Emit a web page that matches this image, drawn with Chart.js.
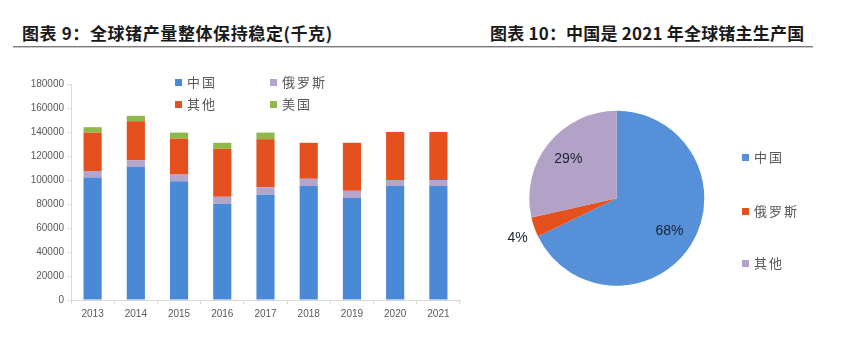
<!DOCTYPE html>
<html>
<head>
<meta charset="utf-8">
<script src="https://cdn.jsdelivr.net/npm/chart.js@4.4.1/dist/chart.umd.min.js"></script>
<style>
  html, body { margin:0; padding:0; background:#fff; }
  body { width:851px; height:356px; position:relative; overflow:hidden; font-family:"Noto Sans CJK SC", sans-serif; }
  .title { position:absolute; top:22px; font-size:17px; font-weight:bold; color:#1a1a1a; white-space:nowrap; line-height:22px; }
  .rule { position:absolute; left:13px; top:46px; width:800px; height:1px; background:#7a7a7a; border-bottom:1px solid #c8c8c8; }
  .leg { position:absolute; font-size:13px; color:#595959; letter-spacing:2px; white-space:nowrap; line-height:16px; }
  .leg i { display:inline-block; width:7px; height:7px; margin-right:5px; vertical-align:1px; }
  #c1 { position:absolute; left:0; top:0; }
  #c2 { position:absolute; left:480px; top:100px; }
</style>
</head>
<body>
<div class="title" style="left:22px; letter-spacing:0.6px;">图表 9：全球锗产量整体保持稳定(千克)</div>
<div class="title" style="left:490px; letter-spacing:0.2px;">图表 10：中国是 2021 年全球锗主生产国</div>
<div class="rule"></div>
<canvas id="c1" width="470" height="356"></canvas>
<canvas id="c2" width="280" height="200"></canvas>
<div id="leg1"></div>
<div id="leg2"></div>
<script>
// ---- Data ----
const years = ['2013','2014','2015','2016','2017','2018','2019','2020','2021'];
const seriesNames = ['中国','俄罗斯','其他','美国'];
const chinaOutput  = [102000,111000, 99000, 80000, 88000, 95000, 85000, 95000, 95000];
const russiaOutput = [  5500,  5500,  5500,  6000,  6000,  6000,  6000,  5000,  5000];
const otherOutput  = [ 32000, 32500, 30000, 40000, 40000, 30000, 40000, 40000, 40000];
const usaOutput    = [  4500,  4500,  5000,  5000,  5500,     0,     0,     0,     0];
const yTicks = [0,20000,40000,60000,80000,100000,120000,140000,160000,180000];

const pieNames  = ['中国','俄罗斯','其他'];
const pieShares = [67.8, 3.7, 28.5];

// ---- Styles ----
const barColors = ['#4a89d6','#b3a5cc','#e4511f','#8fb84b'];
const pieColors = ['#5590d9','#e4511f','#b2a2c8'];

// ---- Bar chart ----
new Chart(document.getElementById('c1'), {
  type:'bar',
  data:{
    labels: years,
    datasets:[
      {label:seriesNames[0], data:chinaOutput,  backgroundColor:barColors[0]},
      {label:seriesNames[1], data:russiaOutput, backgroundColor:barColors[1]},
      {label:seriesNames[2], data:otherOutput,  backgroundColor:barColors[2]},
      {label:seriesNames[3], data:usaOutput,    backgroundColor:barColors[3]}
    ]
  },
  options:{
    responsive:false, animation:false,
    layout:{padding:{left:0, right:10, top:84, bottom:26}},
    datasets:{bar:{barPercentage:0.42, categoryPercentage:1, borderWidth:0}},
    plugins:{legend:{display:false}, tooltip:{enabled:false}},
    scales:{
      x:{
        stacked:true,
        grid:{drawOnChartArea:false, drawTicks:true, tickLength:4, color:'#d9d9d9', offset:true},
        border:{display:true, color:'#d9d9d9'},
        ticks:{color:'#595959', font:{family:'Liberation Sans', size:10}, padding:4, maxRotation:0},
        afterFit(s){ s.height = 30; }
      },
      y:{
        stacked:true, min:0, max:180000,
        afterBuildTicks(s){ s.ticks = yTicks.map(v=>({value:v})); },
        grid:{drawOnChartArea:false, drawTicks:true, tickLength:4, color:'#d9d9d9'},
        border:{display:true, color:'#d9d9d9'},
        ticks:{color:'#595959', font:{family:'Liberation Sans', size:10}, padding:3, callback:(v)=>String(v)},
        afterFit(s){ s.width = 71; }
      }
    }
  }
});

// ---- Pie chart ----
const pieLabels = {
  id:'pieLabels',
  afterDatasetsDraw(chart){
    const ctx = chart.ctx;
    const meta = chart.getDatasetMeta(0);
    const vals = chart.data.datasets[0].data;
    ctx.save();
    ctx.font = '14px "Liberation Sans"';
    ctx.fillStyle = '#1e2230';
    ctx.textAlign = 'center';
    ctx.textBaseline = 'middle';
    meta.data.forEach((arc,i)=>{
      const mid = (arc.startAngle + arc.endAngle)/2;
      const f = i === 1 ? 1.2 : 0.71;
      const x = arc.x + Math.cos(mid)*arc.outerRadius*f;
      const y = arc.y + Math.sin(mid)*arc.outerRadius*f + (i===1?5:0);
      ctx.fillText(Math.round(vals[i]) + '%', x, y);
    });
    ctx.restore();
  }
};
new Chart(document.getElementById('c2'), {
  type:'pie',
  data:{labels:pieNames, datasets:[{data:pieShares, backgroundColor:pieColors, borderWidth:0}]},
  options:{
    responsive:false, animation:false,
    layout:{padding:{left:49.3, right:55.7, top:10.8, bottom:14.2}},
    plugins:{legend:{display:false}, tooltip:{enabled:false}}
  },
  plugins:[pieLabels]
});

// ---- HTML legends ----
function addLeg(parent, name, color, x, y){
  const d = document.createElement('div');
  d.className = 'leg';
  d.style.left = x + 'px';
  d.style.top = (y - 8) + 'px';
  d.innerHTML = '<i style="background:' + color + '"></i>' + name;
  document.getElementById(parent).appendChild(d);
}
const legPos1 = [[175,82],[270,82],[175,104],[270,104]];
seriesNames.forEach((n,i)=>addLeg('leg1', n, barColors[i], legPos1[i][0], legPos1[i][1]));
const legPos2 = [[742,157],[742,211],[742,263]];
pieNames.forEach((n,i)=>addLeg('leg2', n, pieColors[i], legPos2[i][0], legPos2[i][1]));
</script>
</body>
</html>
